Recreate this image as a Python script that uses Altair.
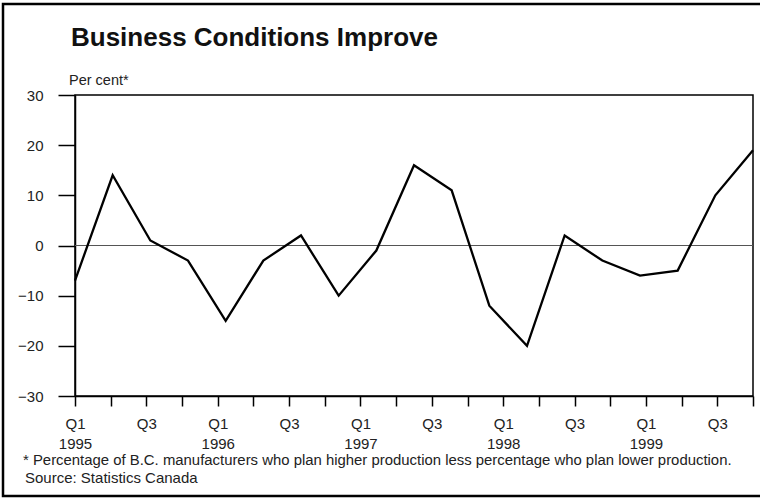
import altair as alt
import pandas as pd

# Quarterly survey balance, Q1 1995 onward
values = [-7, 14, 1, -3, -15, -3, 2, -10, -1, 16, 11, -12, -20, 2, -3, -6, -5, 10, 19]

# Quarter tick labels along the time axis (Q1 1995 .. Q4 1999)
quarter_labels = [
    "Q1|1995", "", "Q3", "",
    "Q1|1996", "", "Q3", "",
    "Q1|1997", "", "Q3", "",
    "Q1|1998", "", "Q3", "",
    "Q1|1999", "", "Q3", "",
]

y_ticks = [-30, -20, -10, 0, 10, 20, 30]

title_text = "Business Conditions Improve"
unit_text = "Per cent*"
footnote_text = ("* Percentage of B.C. manufacturers who plan higher production "
                 "less percentage who plan lower production.")
source_text = "Source: Statistics Canada"

FONT = "Liberation Sans"
SMALL = 15
W, H = 678, 301

series = pd.DataFrame({"i": list(range(len(values))), "v": values})
quarters = pd.DataFrame({"q": list(range(len(quarter_labels))), "lab": quarter_labels,
                         "z": [0] * len(quarter_labels)})

y_scale = alt.Scale(domain=[-30, 30], nice=False, zero=False)
y_axis = alt.Axis(
    values=y_ticks, title=None, grid=False, tickSize=17, tickColor="black",
    tickWidth=1.5, domainColor="black", domainWidth=1.5, labelPadding=15,
    labelFont=FONT, labelFontSize=SMALL, labelColor="#222")

zero_rule = alt.Chart(pd.DataFrame({"z": [0]})).mark_rule(color="#555", strokeWidth=1).encode(
    y=alt.Y("z:Q", scale=y_scale, axis=y_axis)
)

line = alt.Chart(series).mark_line(color="black", strokeWidth=2.3, strokeJoin="miter").encode(
    x=alt.X("i:Q", scale=alt.Scale(domain=[0, len(values) - 1], nice=False), axis=None),
    y=alt.Y("v:Q", scale=y_scale, axis=y_axis),
)

# invisible anchors carrying the quarter axis
label_array = str(quarter_labels).replace("'", '"')
quarter_axis = alt.Chart(quarters).mark_point(opacity=0).encode(
    x=alt.X("q:Q", scale=alt.Scale(domain=[0, len(quarter_labels) - 1], nice=False),
            axis=alt.Axis(
                orient="bottom", values=list(range(len(quarter_labels))), title=None,
                grid=False, tickSize=10, tickColor="black", tickWidth=1.5,
                domainColor="black", domainWidth=1.5, labelPadding=10,
                labelExpr="split(" + label_array + "[datum.value], '|')",
                labelFont=FONT, labelFontSize=SMALL, labelColor="#222",
                labelLineHeight=20, labelBaseline="top", labelAlign="center",
                labelFlush=False, labelOverlap=False)),
    y=alt.Y("z:Q", scale=y_scale, axis=y_axis),
)

one = alt.Data(values=[{}])

title = alt.Chart(one).mark_text(
    text=title_text, font=FONT, fontSize=26, fontWeight="bold", align="left",
    baseline="alphabetic", color="#111").encode(x=alt.value(-4), y=alt.value(-49))

unit = alt.Chart(one).mark_text(
    text=unit_text, font=FONT, fontSize=14.5, align="left", baseline="alphabetic",
    color="#222").encode(x=alt.value(-6), y=alt.value(-10))

footnote = alt.Chart(one).mark_text(
    text=footnote_text, font=FONT, fontSize=14.9, align="left", baseline="alphabetic",
    color="#222").encode(x=alt.value(-52), y=alt.value(370))

source = alt.Chart(one).mark_text(
    text=source_text, font=FONT, fontSize=SMALL, align="left", baseline="alphabetic",
    color="#222").encode(x=alt.value(-50), y=alt.value(388))

frame = alt.Chart(one).mark_rect(fill=None, stroke="black", strokeWidth=2.5).encode(
    x=alt.value(-72), x2=alt.value(W + 12), y=alt.value(-91), y2=alt.value(H + 100)
)

chart = alt.layer(
    zero_rule, line, quarter_axis, title, unit, footnote, source, frame
).resolve_scale(x="independent").properties(
    width=W, height=H,
    background="white",
    autosize=alt.AutoSizeParams(type="none"),
    padding={"left": 75, "top": 95, "right": 7, "bottom": 103},
).configure_view(stroke="black", strokeWidth=1.5)

chart.save("out.html", embed_options={"renderer": "svg", "actions": False})
